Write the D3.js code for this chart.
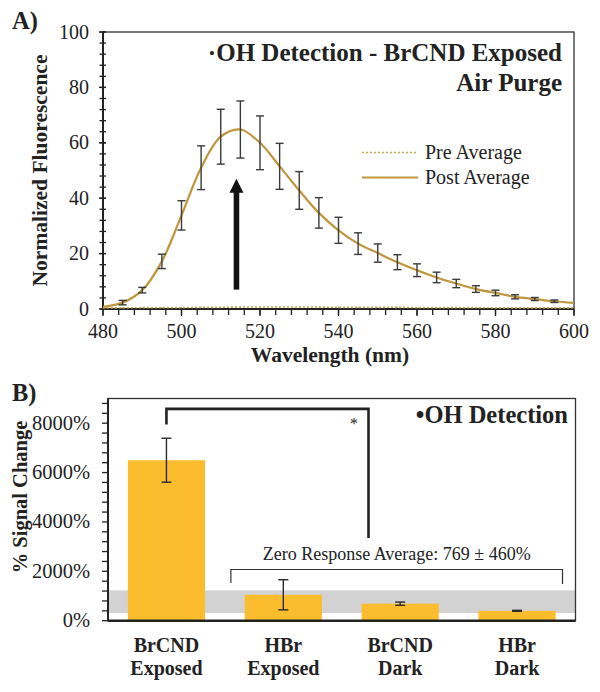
<!DOCTYPE html>
<html>
<head>
<meta charset="utf-8">
<script src="https://cdn.jsdelivr.net/npm/d3@7"></script>
<style>
  html, body { margin: 0; padding: 0; background: #fff; }
  svg { display: block; }
  text { font-family: "Liberation Serif", "Times New Roman", serif; fill: #222; }
</style>
</head>
<body>
<svg id="chart" width="600" height="692"></svg>
<script>
// ---------- Panel A data ----------
const wavelengths = [480,485,490,495,500,505,510,515,520,525,530,535,540,545,550,555,560,565,570,575,580,585,590,595,600];
const postAverage = [0.8,2.3,6.8,17.2,33.8,51,62.2,64.8,60,51.5,42.8,34.7,28.4,23.6,20.2,16.9,14,11.4,9.2,7.2,5.8,4.4,3.6,2.8,2.2];
const postError   = [0,0.8,1.0,2.6,5.3,7.9,9.9,10.3,9.7,8.3,6.8,5.5,4.7,3.9,3.3,2.7,2.3,1.9,1.5,1.2,1.0,0.75,0.55,0.45,0];
const preAverage  = [0.4,0.4,0.5,0.5,0.5,0.6,0.6,0.7,0.7,0.7,0.7,0.7,0.6,0.6,0.6,0.6,0.5,0.5,0.5,0.5,0.4,0.4,0.4,0.4,0.4];
const preError    = [0,0.2,0.2,0.2,0.2,0.2,0.2,0.2,0.2,0.2,0.2,0.2,0.2,0.2,0.2,0.2,0.2,0.2,0.2,0.2,0.2,0.2,0.2,0.2,0];
const xTicksA = [480,500,520,540,560,580,600];
const yTicksA = [0,20,40,60,80,100];
const arrowA = {x: 514, y0: 7, y1: 47};

// ---------- Panel B data ----------
const categories = [["BrCND","Exposed"],["HBr","Exposed"],["BrCND","Dark"],["HBr","Dark"]];
const signalChange = [6500, 1050, 690, 400];
const signalError  = [890, 610, 65, 20];
const zeroAvg = 769, zeroSd = 460;
const yTicksB = [0,2000,4000,6000,8000];

const svg = d3.select("#chart");
const gold = "#bf963c";
const barColor = "#fbbd2e";
const ink = "#222";

// ================= PANEL A =================
const A = {l:103, r:574, t:32, b:309};
const xA = d3.scaleLinear().domain([480,600]).range([A.l, A.r]);
const yA = d3.scaleLinear().domain([0,100]).range([A.b, A.t]);

svg.append("text").attr("x", 12).attr("y", 29).attr("font-size", 24.5).attr("font-weight", "bold").text("A)");

svg.append("rect").attr("x", A.l).attr("y", A.t).attr("width", A.r - A.l).attr("height", A.b - A.t)
  .attr("fill", "none").attr("stroke", "#333").attr("stroke-width", 1.3);

const gA = svg.append("g");
d3.range(0, 101, 4).forEach(v => {
  gA.append("line").attr("x1", A.l - 3.5).attr("x2", A.l + 3).attr("y1", yA(v)).attr("y2", yA(v)).attr("stroke", ink).attr("stroke-width", 1.3);
});
yTicksA.forEach(v => {
  gA.append("line").attr("x1", A.l - 4).attr("x2", A.l + 3).attr("y1", yA(v)).attr("y2", yA(v)).attr("stroke", ink).attr("stroke-width", 1.3);
  gA.append("text").attr("x", 89).attr("y", yA(v) + 6.5).attr("text-anchor", "end").attr("font-size", 20).text(v);
});
d3.range(480, 601, 4).forEach(v => {
  gA.append("line").attr("x1", xA(v)).attr("x2", xA(v)).attr("y1", A.b).attr("y2", A.b + 6).attr("stroke", ink).attr("stroke-width", 1.3);
});
xTicksA.forEach(v => {
  gA.append("line").attr("x1", xA(v)).attr("x2", xA(v)).attr("y1", A.b).attr("y2", A.b + 7).attr("stroke", ink).attr("stroke-width", 1.3);
  gA.append("text").attr("x", xA(v)).attr("y", 338).attr("text-anchor", "middle").attr("font-size", 20).text(v);
});
gA.append("line").attr("x1", A.l).attr("x2", A.l).attr("y1", A.t).attr("y2", A.b).attr("stroke", ink).attr("stroke-width", 2);
gA.append("line").attr("x1", A.l).attr("x2", A.r).attr("y1", A.b).attr("y2", A.b).attr("stroke", ink).attr("stroke-width", 2);

svg.append("text").attr("transform", `translate(47,${(A.t + A.b)/2}) rotate(-90)`).attr("text-anchor", "middle")
  .attr("font-size", 21.5).attr("font-weight", "bold").text("Normalized Fluorescence");
svg.append("text").attr("x", 330).attr("y", 362).attr("text-anchor", "middle")
  .attr("font-size", 21.5).attr("font-weight", "bold").text("Wavelength (nm)");

const preData = wavelengths.map((w,i) => ({w, v: preAverage[i], e: preError[i]}));
const postData = wavelengths.map((w,i) => ({w, v: postAverage[i], e: postError[i]}));
const lineA = d3.line().x(d => xA(d.w)).y(d => yA(d.v)).curve(d3.curveCatmullRom.alpha(0.5));

svg.append("g").selectAll("line").data(preData.filter(d => d.e > 0)).join("line")
  .attr("x1", d => xA(d.w)).attr("x2", d => xA(d.w)).attr("y1", d => yA(d.v - d.e)).attr("y2", d => yA(d.v + d.e))
  .attr("stroke", "#999").attr("stroke-width", 1);
svg.append("path").datum(preData).attr("d", lineA).attr("fill", "none").attr("stroke", "#c9a650")
  .attr("stroke-width", 1.6).attr("stroke-dasharray", "2,2");

svg.append("path").datum(postData).attr("d", lineA).attr("fill", "none").attr("stroke", gold).attr("stroke-width", 2.2);

const eb = svg.append("g").attr("stroke", "#3a3a3a").attr("stroke-width", 1.4);
postData.filter(d => d.e > 0).forEach(d => {
  const x = xA(d.w), y1 = yA(d.v - d.e), y2 = yA(d.v + d.e);
  eb.append("line").attr("x1", x).attr("x2", x).attr("y1", y1).attr("y2", y2);
  eb.append("line").attr("x1", x - 4).attr("x2", x + 4).attr("y1", y1).attr("y2", y1);
  eb.append("line").attr("x1", x - 4).attr("x2", x + 4).attr("y1", y2).attr("y2", y2);
});

const ax = xA(arrowA.x), ayb = yA(arrowA.y0), ayt = yA(arrowA.y1);
svg.append("rect").attr("x", ax - 2.8).attr("y", ayt + 12).attr("width", 5.6).attr("height", ayb - ayt - 12).attr("fill", "#111");
svg.append("path").attr("d", `M${ax},${ayt} L${ax + 7},${ayt + 14} L${ax - 7},${ayt + 14} Z`).attr("fill", "#111");

svg.append("text").attr("x", 562).attr("y", 61).attr("text-anchor", "end").attr("font-size", 25).attr("font-weight", "bold")
  .text("\u00B7OH Detection - BrCND Exposed");
svg.append("text").attr("x", 562).attr("y", 91).attr("text-anchor", "end").attr("font-size", 25).attr("font-weight", "bold")
  .text("Air Purge");

svg.append("line").attr("x1", 362).attr("x2", 418).attr("y1", 152.5).attr("y2", 152.5).attr("stroke", "#c9a650").attr("stroke-width", 1.6).attr("stroke-dasharray", "2,2");
svg.append("line").attr("x1", 362).attr("x2", 418).attr("y1", 177.5).attr("y2", 177.5).attr("stroke", gold).attr("stroke-width", 2.2);
svg.append("text").attr("x", 425).attr("y", 159).attr("font-size", 20).text("Pre Average");
svg.append("text").attr("x", 425).attr("y", 184).attr("font-size", 20).text("Post Average");

// ================= PANEL B =================
const B = {l:108, r:575.5, t:398.5, b:620.7};
const xB = d3.scaleBand().domain(d3.range(categories.length)).range([B.l, B.r]).padding(0);
const yB = d3.scaleLinear().domain([0,9000]).range([B.b, B.t]);
const barW = xB.bandwidth() * 0.66;

svg.append("text").attr("x", 12).attr("y", 401).attr("font-size", 24.5).attr("font-weight", "bold").text("B)");

svg.append("rect").attr("x", B.l).attr("y", yB(zeroAvg + zeroSd)).attr("width", B.r - B.l)
  .attr("height", yB(zeroAvg - zeroSd) - yB(zeroAvg + zeroSd)).attr("fill", "#d2d2d2");

svg.append("g").selectAll("rect").data(signalChange).join("rect")
  .attr("x", (d,i) => xB(i) + (xB.bandwidth() - barW)/2).attr("width", barW)
  .attr("y", d => yB(d)).attr("height", d => yB(0) - yB(d)).attr("fill", barColor);

const ebB = svg.append("g").attr("stroke", "#2a2a2a").attr("stroke-width", 1.4);
signalChange.forEach((v,i) => {
  const x = xB(i) + xB.bandwidth()/2, y1 = yB(v - signalError[i]), y2 = yB(v + signalError[i]);
  ebB.append("line").attr("x1", x).attr("x2", x).attr("y1", y1).attr("y2", y2);
  ebB.append("line").attr("x1", x - 5).attr("x2", x + 5).attr("y1", y1).attr("y2", y1);
  ebB.append("line").attr("x1", x - 5).attr("x2", x + 5).attr("y1", y2).attr("y2", y2);
});

svg.append("rect").attr("x", B.l).attr("y", B.t).attr("width", B.r - B.l).attr("height", B.b - B.t)
  .attr("fill", "none").attr("stroke", "#333").attr("stroke-width", 1.3);
svg.append("line").attr("x1", B.l).attr("x2", B.l).attr("y1", B.t).attr("y2", B.b).attr("stroke", ink).attr("stroke-width", 2);
svg.append("line").attr("x1", B.l).attr("x2", B.r).attr("y1", B.b).attr("y2", B.b).attr("stroke", ink).attr("stroke-width", 2.4);

d3.range(0, 9001, 400).forEach(v => {
  svg.append("line").attr("x1", B.l - 6).attr("x2", B.l).attr("y1", yB(v)).attr("y2", yB(v)).attr("stroke", ink).attr("stroke-width", 1.3);
});
yTicksB.forEach(v => {
  svg.append("text").attr("x", 90).attr("y", yB(v) + 6.5).attr("text-anchor", "end").attr("font-size", 20.5).text(v + "%");
});

svg.append("text").attr("transform", `translate(27,497) rotate(-90)`).attr("text-anchor", "middle")
  .attr("font-size", 20.5).attr("font-weight", "bold").text("% Signal Change");

categories.forEach((c,i) => {
  const x = xB(i) + xB.bandwidth()/2;
  svg.append("text").attr("x", x).attr("y", 652).attr("text-anchor", "middle").attr("font-size", 20).attr("font-weight", "bold").text(c[0]);
  svg.append("text").attr("x", x).attr("y", 675).attr("text-anchor", "middle").attr("font-size", 20).attr("font-weight", "bold").text(c[1]);
});

svg.append("text").attr("x", 568).attr("y", 423).attr("text-anchor", "end").attr("font-size", 24.5).attr("font-weight", "bold")
  .text("\u2022OH Detection");

const c0 = xB(0) + xB.bandwidth()/2;
svg.append("path").attr("d", `M${c0},${yB(7950)} V${yB(8580)} H368.5 V538`).attr("fill", "none").attr("stroke", "#222").attr("stroke-width", 2.6);
svg.append("text").attr("x", 354).attr("y", 429).attr("text-anchor", "middle").attr("font-size", 16).text("*");

const zx0 = xB(1) + 6, zx1 = xB(3) + xB.bandwidth() - 13;
svg.append("path").attr("d", `M${zx0},583 V569.5 H${zx1} V584`).attr("fill", "none").attr("stroke", "#333").attr("stroke-width", 1.2);
svg.append("text").attr("x", (zx0 + zx1)/2).attr("y", 560).attr("text-anchor", "middle").attr("font-size", 18)
  .text(`Zero Response Average: ${zeroAvg} \u00B1 ${zeroSd}%`);
</script>
</body>
</html>
